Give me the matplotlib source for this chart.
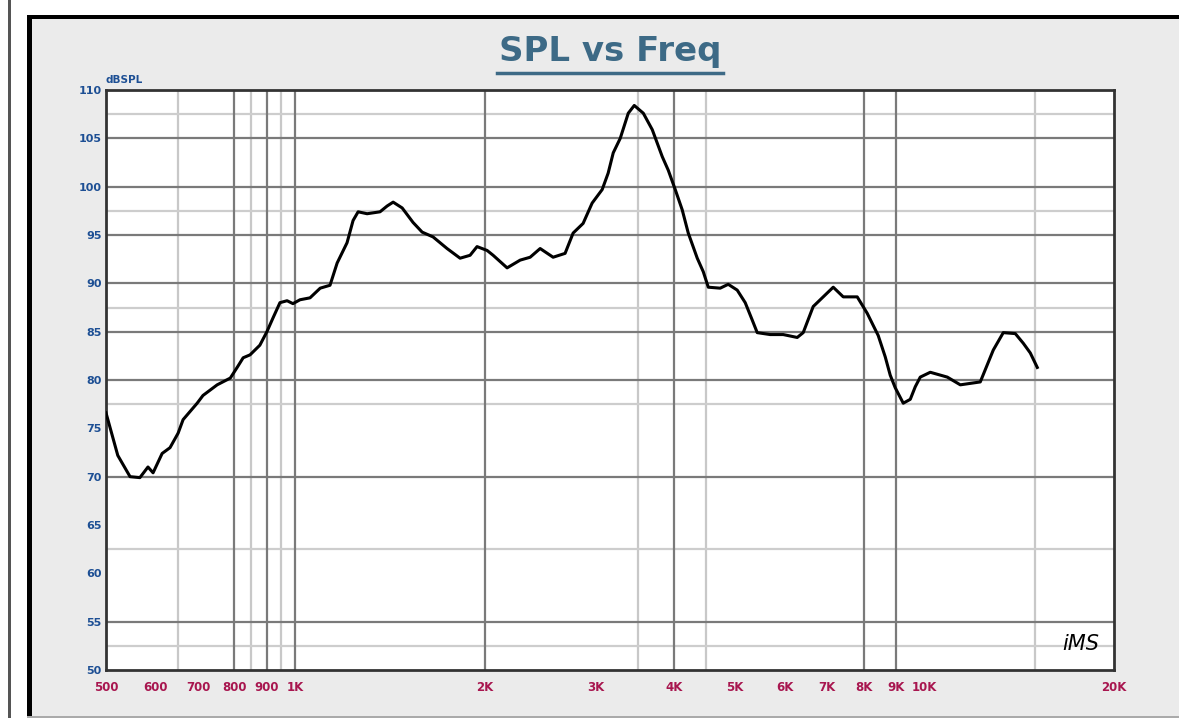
import matplotlib.pyplot as plt
from matplotlib.lines import Line2D
from matplotlib.patches import Rectangle

# SPL response (Hz, dB)
freq = [500, 522, 546, 566, 583, 594, 614, 632, 651, 663,
        698, 713, 751, 788, 808, 826, 847, 878, 901, 921,
        945, 970, 991, 1017, 1055, 1095, 1135, 1165, 1208, 1235,
        1258, 1300, 1363, 1399, 1430, 1478, 1538, 1590, 1655, 1742,
        1827, 1895, 1944, 2017, 2062, 2170, 2276, 2361, 2449, 2568,
        2683, 2763, 2866, 2962, 3073, 3141, 3200, 3283, 3381, 3456,
        3572, 3691, 3829, 3914, 4015, 4119, 4211, 4352, 4449, 4531,
        4733, 4874, 5037, 5187, 5322, 5420, 5683, 5961, 6274, 6413,
        6652, 6875, 7158, 7425, 7815, 8106, 8439, 8658, 8818, 8981,
        9249, 9489, 9664, 9843, 10210, 10866, 11396, 12260, 12858, 13337,
        13936, 14350, 14722, 15104]
spl = [76.6, 72.2, 70.0, 69.9, 71.0, 70.4, 72.4, 73.0, 74.5, 75.9,
       77.6, 78.4, 79.5, 80.2, 81.3, 82.3, 82.6, 83.6, 85.0, 86.4,
       88.0, 88.2, 87.9, 88.3, 88.5, 89.5, 89.8, 92.1, 94.2, 96.5,
       97.4, 97.2, 97.4, 98.0, 98.4, 97.8, 96.3, 95.3, 94.8, 93.6,
       92.6, 92.9, 93.8, 93.4, 92.9, 91.6, 92.4, 92.7, 93.6, 92.7,
       93.1, 95.2, 96.2, 98.3, 99.7, 101.4, 103.5, 105.0, 107.6, 108.4,
       107.6, 105.9, 103.1, 101.7, 99.7, 97.6, 95.2, 92.6, 91.2, 89.6,
       89.5, 89.9, 89.3, 88.0, 86.2, 84.9, 84.7, 84.7, 84.4, 84.9,
       87.6, 88.5, 89.6, 88.6, 88.6, 86.9, 84.6, 82.4, 80.5, 79.2,
       77.6, 78.0, 79.3, 80.3, 80.8, 80.3, 79.5, 79.8, 83.1, 84.9,
       84.8, 83.8, 82.8, 81.3]

x_ticks = [500, 600, 700, 800, 900, 1000, 2000, 3000, 4000, 5000,
           6000, 7000, 8000, 9000, 10000, 20000]
x_labels = ['500', '600', '700', '800', '900', '1K', '2K', '3K', '4K', '5K',
            '6K', '7K', '8K', '9K', '10K', '20K']
y_ticks = [50, 55, 60, 65, 70, 75, 80, 85, 90, 95, 100, 105, 110]

# grid lines as they appear in the reference
vgrid_dark = [800, 900, 1000, 2000, 4000, 8000, 9000]
vgrid_light = [650, 850, 950, 3500, 4500, 15000]
hgrid_dark = [55, 70, 80, 85, 90, 95, 100, 105]
hgrid_light = [52.5, 62.5, 77.5, 87.5, 97.5, 107.5]

fig = plt.figure(figsize=(11.79, 7.18), dpi=100)
fig.patch.set_facecolor('white')

W, H = 1179, 718
# grey panel with heavy black top/left border (kept behind the axes)
for (x0, y0, w, h, c) in [(27 / W, 0, 1, 1 - 15 / H, '#ebebeb'),
                          (27 / W, 1 - 19 / H, 1, 4 / H, 'black'),
                          (27 / W, 0, 5 / W, 1 - 15 / H, 'black'),
                          (8 / W, 0, 3 / W, 1, '#555555'),
                          (27 / W, 0, 1, 2 / H, '#aaaaaa')]:
    fig.patches.append(Rectangle((x0, y0), w, h, transform=fig.transFigure,
                                 facecolor=c, edgecolor='none', zorder=-5))

ax = fig.add_axes([106 / W, 1 - 670 / H, (1114 - 106) / W, (670 - 90) / H])
ax.set_facecolor('white')
ax.set_xscale('log')
ax.set_xlim(500, 20000)
ax.set_ylim(50, 110)

for f in vgrid_light:
    ax.axvline(f, color='#c8c8c8', lw=1.6, zorder=1)
for f in vgrid_dark:
    ax.axvline(f, color='#7a7a7a', lw=1.6, zorder=2)
for v in hgrid_light:
    ax.axhline(v, color='#cdcdcd', lw=1.6, zorder=1)
for v in hgrid_dark:
    ax.axhline(v, color='#7a7a7a', lw=1.6, zorder=2)

ax.plot(freq, spl, color='black', lw=2.2, zorder=5)

ax.xaxis.set_minor_locator(plt.NullLocator())
ax.set_xticks(x_ticks)
ax.set_xticklabels(x_labels)
ax.set_yticks(y_ticks)
ax.set_yticklabels([str(v) for v in y_ticks])
ax.tick_params(axis='x', length=0, pad=8, labelsize=8.5, labelcolor='#a8164f')
ax.tick_params(axis='y', length=0, pad=3, labelsize=8, labelcolor='#1d4f94')
for lab in ax.get_xticklabels() + ax.get_yticklabels():
    lab.set_fontweight('bold')

for s in ax.spines.values():
    s.set_color('#333333')
    s.set_linewidth(2)

ax.text(0.0, 1.008, 'dBSPL', transform=ax.transAxes, fontsize=7.5,
        fontweight='bold', color='#1d4f94', ha='left', va='bottom')
ax.text(0.985, 0.045, 'iMS', transform=ax.transAxes, fontsize=15,
        style='italic', color='black', ha='right', va='center', zorder=6)

fig.text(610 / W, 1 - 52 / H, 'SPL vs Freq', ha='center', va='center',
         fontsize=24.5, fontweight='bold', color='#3d6a86')
fig.add_artist(Line2D([497 / W, 723 / W], [1 - 73 / H, 1 - 73 / H],
                      transform=fig.transFigure, color='#3d6a86', lw=2.5))

plt.savefig('out.png', dpi=100)
